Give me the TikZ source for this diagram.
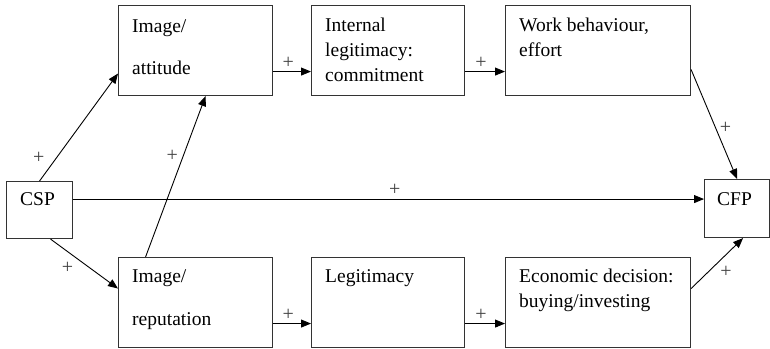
\documentclass[tikz,border=0pt]{standalone}
\usepackage{fontspec}
\setmainfont{Liberation Serif}
\usetikzlibrary{arrows.meta}

\begin{document}
\begin{tikzpicture}[x=1pt, y=-1pt,
    box/.style={draw=black!80, line width=1.1pt, anchor=north west, inner sep=0pt},
    txt/.style={anchor=north west, inner sep=0pt, align=left, font=\fontsize{19.5}{25}\selectfont},
    link/.style={line width=0.9pt, -{Triangle[length=10pt, width=8pt]}},
    plus/.style={font=\fontsize{20}{22}\selectfont, text=black!75, inner sep=0pt}]

    \useasboundingbox (0,0) rectangle (770,348);

    % =====================================================
    % BOXES
    % =====================================================
    % Outer ends
    \node[box, minimum width=66pt, minimum height=57pt] (csp) at (6,181) {};
    \node[box, minimum width=65pt, minimum height=58pt] (cfp) at (704,179) {};

    % Top row
    \node[box, minimum width=154pt, minimum height=90pt] (att)  at (118,5) {};
    \node[box, minimum width=153pt, minimum height=90pt] (intl) at (311,5) {};
    \node[box, minimum width=185pt, minimum height=90pt] (work) at (505,5) {};

    % Bottom row
    \node[box, minimum width=154pt, minimum height=90pt] (rep)   at (118,257) {};
    \node[box, minimum width=153pt, minimum height=90pt] (legit) at (311,257) {};
    \node[box, minimum width=185pt, minimum height=90pt] (econ)  at (505,257) {};

    % Texts
    \node[txt] (cspT)   at ([xshift=14pt, yshift=-11pt]csp.north west) {CSP};
    \node[txt] (cfpT)   at ([xshift=13pt, yshift=-13pt]cfp.north west) {CFP};
    \node[txt] (attT)   at ([xshift=14pt, yshift=-14pt]att.north west) {Image/\\[17pt]attitude};
    \node[txt] (intlT)  at ([xshift=14pt, yshift=-13pt]intl.north west) {Internal\\legitimacy:\\commitment};
    \node[txt] (workT)  at ([xshift=14pt, yshift=-13pt]work.north west) {Work behaviour,\\effort};
    \node[txt] (repT)   at ([xshift=14pt, yshift=-12pt]rep.north west) {Image/\\[18pt]reputation};
    \node[txt] (legitT) at ([xshift=14pt, yshift=-12pt]legit.north west) {Legitimacy};
    \node[txt] (econT)  at ([xshift=14pt, yshift=-12pt]econ.north west) {Economic decision:\\buying/investing};

    % =====================================================
    % ARROWS
    % =====================================================
    % CSP into both image boxes
    \draw[link] (csp.north) -- ([yshift=-23pt]att.west)
        node[plus, pos=0.22, left=12pt] (pAtt) {+};
    \draw[link] ([xshift=11pt]csp.south) -- ([yshift=14pt]rep.west)
        node[plus, pos=0.25, below=10pt] (pRep) {+};

    % reputation feeds attitude
    \draw[link] ([xshift=-50pt]rep.north) -- ([xshift=10pt]att.south)
        node[plus, pos=0.63, left=5pt] (pUp) {+};

    % Direct path
    \draw[link] ([yshift=11pt]csp.east) -- ([yshift=11pt]csp.east -| cfp.west)
        node[plus, pos=0.51, above=3pt] (pDir) {+};

    % Chains along the rows
    \foreach \a/\b in {att/intl, intl/work, rep/legit, legit/econ}
        \draw[link] ([yshift=-21pt]\a.east) -- ([yshift=-21pt]\a.east -| \b.west)
            node[plus, pos=0.4, above=3pt] (p\a) {+};

    % Into CFP
    \draw[link] ([yshift=-19pt]work.east) -- (cfp.north)
        node[plus, pos=0.53, right=4pt] (pWork) {+};
    \draw[link] ([yshift=14pt]econ.east) -- ([xshift=6pt]cfp.south)
        node[plus, pos=0.67, below=11pt] (pEcon) {+};

\end{tikzpicture}
\end{document}
